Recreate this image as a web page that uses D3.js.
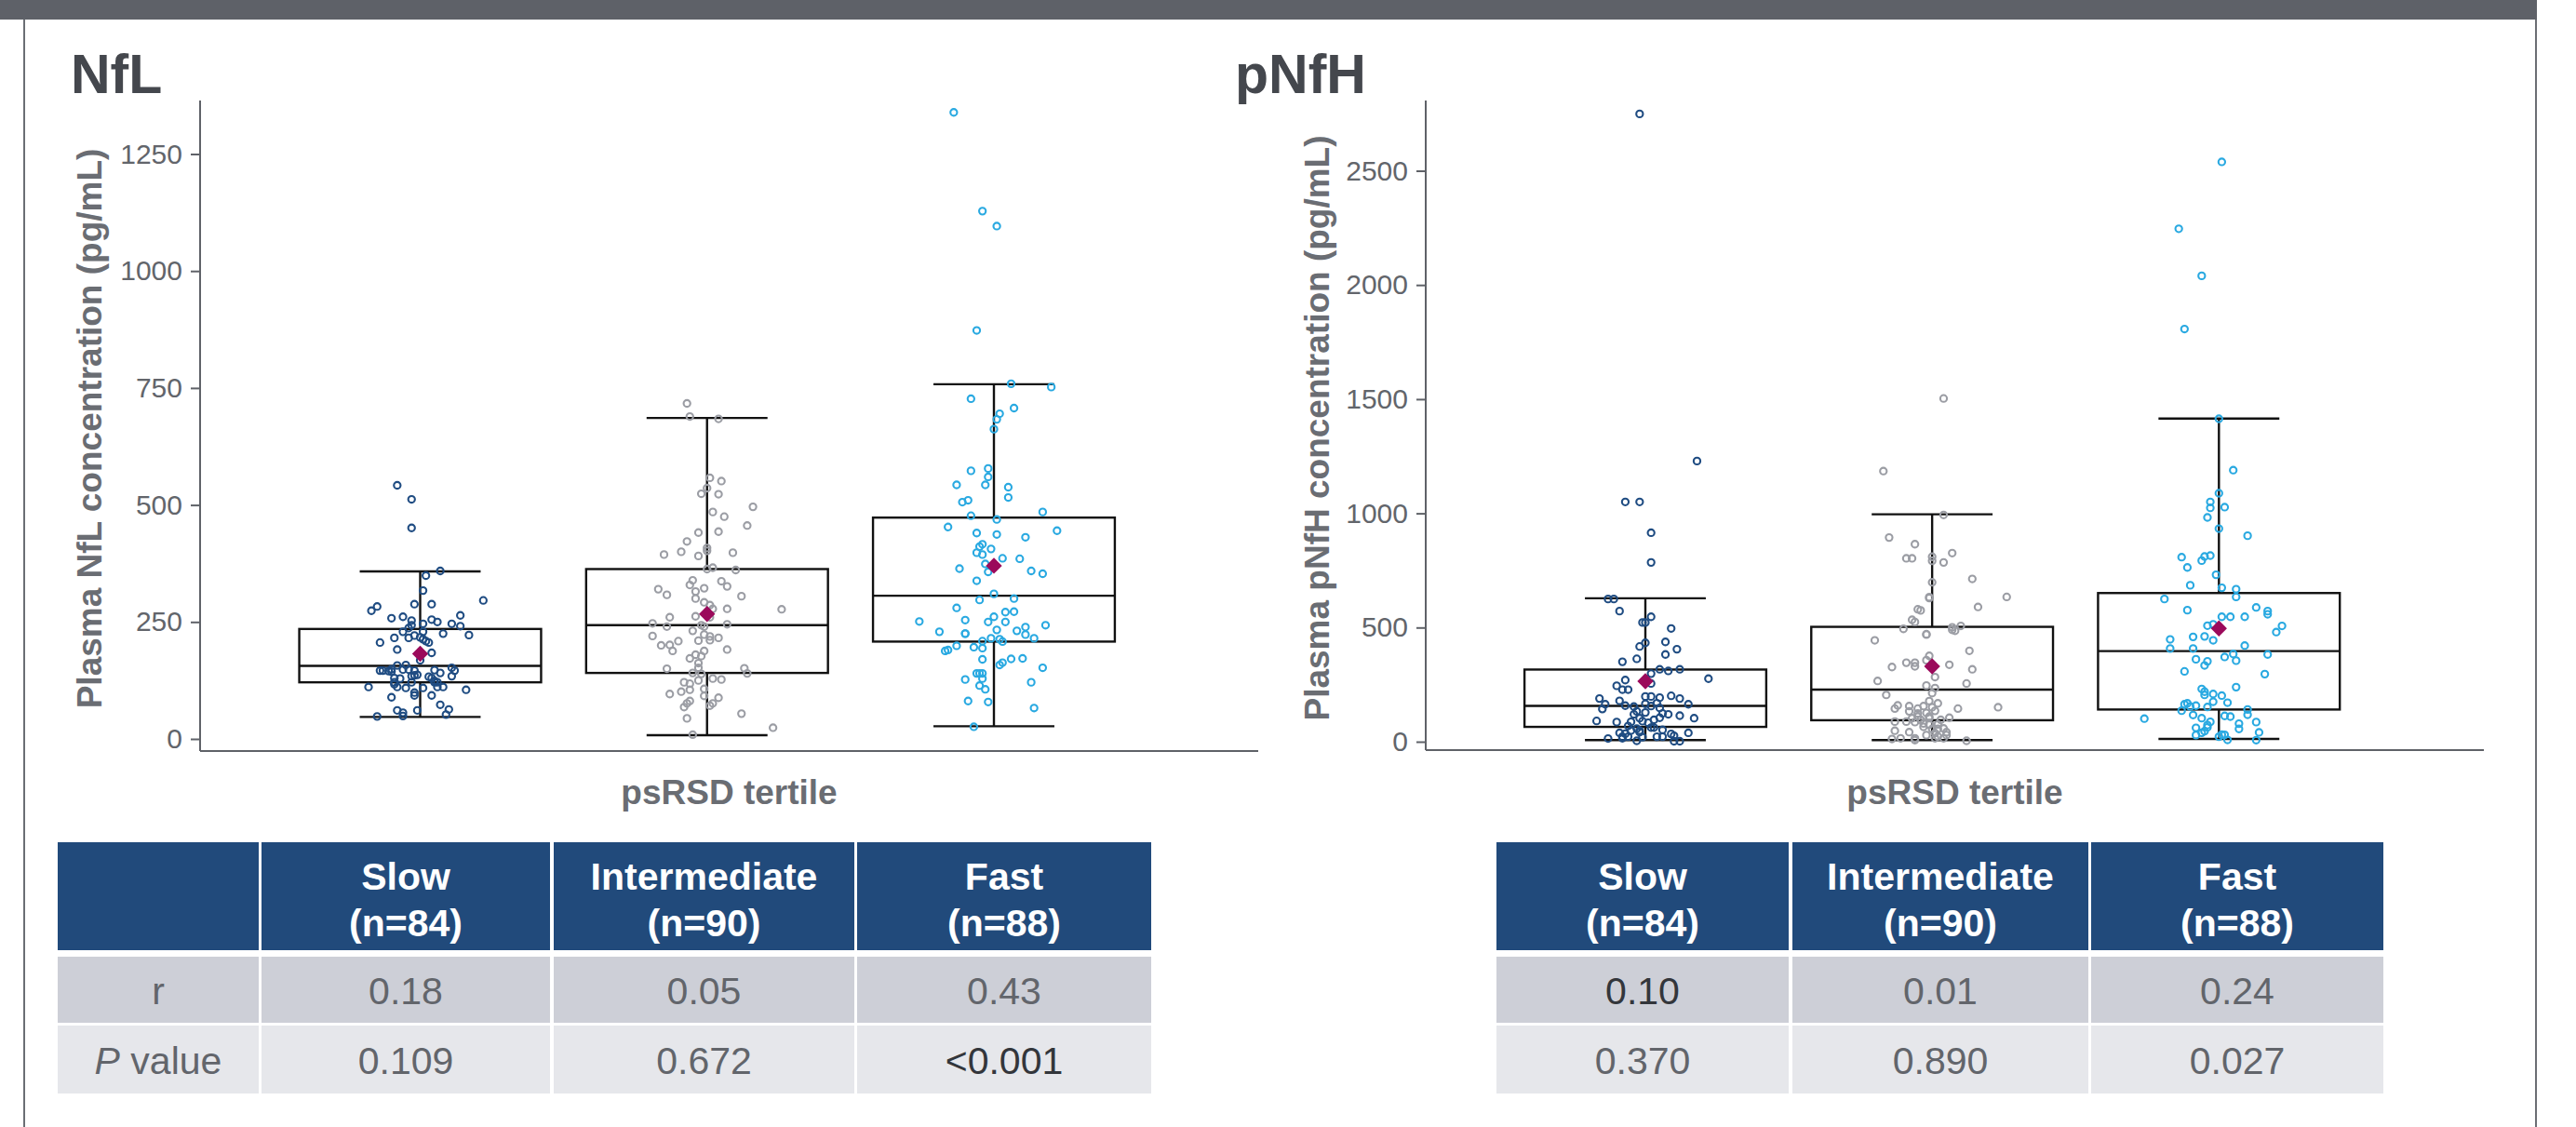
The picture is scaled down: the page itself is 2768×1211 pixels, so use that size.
<!DOCTYPE html>
<html>
<head>
<meta charset="utf-8">
<script src="https://cdn.jsdelivr.net/npm/d3@7"></script>
<style>
body { margin: 0; background: #fff; }
svg { display: block; font-family: "Liberation Sans", Arial, sans-serif; }
</style>
</head>
<body>
<div id="chart"></div>
<script>
var categories = ["Slow", "Intermediate", "Fast"];
var groupN = [84, 90, 88];

var nflTicks = [0, 250, 500, 750, 1000, 1250];
var nfhTicks = [0, 500, 1000, 1500, 2000, 2500];

// box stats per tertile: [lower whisker, q1, median, q3, upper whisker, mean]
var nflStats = [[47, 121, 156, 235, 358, 182], [8, 141, 243, 363, 686, 267], [27, 208, 306, 473, 758, 370]];
var nfhStats = [[7, 65, 157, 316, 628, 265], [7, 94, 228, 503, 996, 330], [12, 141, 397, 651, 1415, 496]];

// points: [jitter (in category steps), value pg/mL]
var nflSlow = [[-0.08,542],[-0.03,512],[-0.03,451],[0.07,359],[0.02,349],[0.01,317],[0.22,296],[-0.02,288],[0.04,288],[-0.15,283],
  [-0.17,274],[-0.10,258],[-0.06,261],[-0.03,253],[-0.03,243],[0.01,246],[0.04,255],[0.06,250],[0.11,246],[0.14,264],
  [0.14,241],[-0.06,229],[-0.02,221],[0.01,229],[0.08,225],[0.17,222],[-0.09,216],[-0.04,216],[0.00,217],[0.02,209],
  [0.03,206],[-0.14,206],[-0.08,191],[0.04,184],[0.00,168],[-0.08,157],[-0.05,158],[-0.13,146],[-0.11,145],[-0.10,149],
  [-0.04,148],[-0.02,146],[0.05,147],[0.07,141],[0.11,152],[0.12,146],[0.11,134],[-0.09,130],[-0.07,129],[-0.03,134],
  [-0.01,137],[0.03,133],[0.04,130],[-0.09,117],[0.05,121],[-0.18,111],[-0.08,111],[-0.05,109],[0.01,109],[0.06,111],
  [0.08,111],[0.16,105],[-0.02,99],[-0.02,93],[-0.10,89],[0.04,93],[0.07,73],[-0.08,61],[-0.06,56],[-0.06,49],
  [-0.01,61],[0.10,63],[0.09,52],[-0.15,48],[-0.02,136],[-0.10,144],[-0.06,148],[0.05,124],[-0.03,121],[-0.04,237],
  [0.01,213],[0.06,121],[-0.14,146],[-0.09,121]];
var nflInt = [[-0.07,717],[-0.06,689],[0.04,684],[0.01,558],[0.05,551],[0.00,536],[-0.02,524],[0.04,523],[0.16,496],[0.02,485],
  [0.06,475],[0.14,456],[-0.03,441],[0.04,443],[-0.07,422],[0.00,408],[0.00,402],[-0.09,400],[-0.03,391],[-0.15,394],
  [0.09,398],[0.00,363],[0.02,366],[0.10,361],[-0.05,339],[-0.06,329],[0.05,337],[0.07,326],[-0.01,322],[-0.04,315],
  [-0.17,320],[-0.14,308],[0.12,305],[-0.01,292],[0.01,286],[0.02,278],[0.07,278],[0.26,277],[-0.13,260],[-0.04,262],
  [-0.19,247],[-0.14,240],[-0.02,243],[-0.01,240],[0.07,245],[-0.05,231],[-0.19,220],[-0.01,223],[0.01,219],[0.04,216],
  [0.01,211],[-0.10,209],[-0.16,200],[-0.13,201],[-0.12,188],[0.07,191],[-0.01,188],[-0.04,180],[-0.02,177],[-0.06,172],
  [-0.03,162],[-0.03,152],[-0.14,150],[0.13,151],[0.14,140],[-0.05,141],[-0.02,139],[0.02,129],[0.05,127],[-0.03,125],
  [-0.08,121],[-0.06,118],[-0.06,105],[-0.09,101],[-0.01,107],[-0.13,96],[-0.01,92],[0.04,88],[-0.06,81],[-0.07,76],
  [-0.08,68],[0.02,76],[0.01,71],[0.12,54],[-0.07,44],[0.23,24],[-0.05,9],[-0.04,300],[0.01,260],[-0.03,210]];
var nflFast = [[0.06,759],[0.20,752],[-0.08,727],[0.07,707],[0.02,695],[0.01,683],[0.00,662],[-0.02,578],[-0.08,573],[-0.02,560],
  [-0.13,543],[-0.03,543],[0.05,538],[0.05,516],[-0.11,506],[-0.09,510],[0.17,485],[-0.08,477],[0.01,469],[-0.16,453],
  [0.22,445],[-0.06,440],[0.01,437],[0.11,431],[-0.04,416],[-0.05,411],[-0.01,406],[-0.06,398],[-0.04,394],[0.03,386],
  [0.09,385],[-0.03,374],[-0.12,364],[-0.02,357],[0.13,359],[0.17,353],[-0.06,338],[0.00,310],[-0.05,297],[0.07,300],
  [-0.13,280],[0.04,271],[0.07,272],[-0.26,251],[-0.10,254],[-0.02,250],[0.00,261],[0.04,250],[0.18,243],[-0.19,229],
  [-0.10,225],[-0.10,225],[0.01,233],[0.08,231],[0.11,239],[0.11,223],[0.14,215],[-0.01,215],[-0.04,209],[0.02,213],
  [0.03,208],[-0.17,188],[-0.13,199],[-0.07,196],[-0.04,194],[-0.04,170],[0.06,171],[0.10,172],[0.03,163],[0.02,158],
  [0.17,152],[-0.06,140],[-0.04,140],[-0.04,129],[-0.10,127],[-0.05,114],[-0.03,106],[0.13,121],[-0.09,81],[-0.02,79],
  [0.14,66],[-0.07,26],[-0.16,190],[-0.05,140],[-0.14,1339],[-0.04,1128],[0.01,1096],[-0.06,873]];

var nfhSlow = [[0.02,785],[-0.13,625],[-0.11,625],[-0.09,572],[0.02,547],[-0.01,522],[0.00,522],[0.09,496],[0.00,433],[0.07,437],
  [-0.02,417],[0.11,405],[0.07,382],[-0.03,363],[-0.08,350],[0.05,317],[0.08,310],[0.12,317],[0.02,298],[0.22,276],
  [-0.07,270],[0.02,255],[-0.10,245],[-0.08,228],[-0.06,228],[-0.16,189],[0.00,198],[0.02,198],[0.05,193],[0.09,201],
  [0.12,189],[-0.09,179],[-0.14,164],[-0.15,143],[-0.07,158],[-0.04,154],[-0.03,133],[0.00,166],[0.02,156],[0.04,169],
  [0.05,148],[0.15,164],[-0.04,120],[-0.02,103],[0.00,128],[0.06,124],[0.08,120],[0.12,114],[0.17,103],[-0.17,91],
  [-0.10,86],[-0.05,87],[-0.01,90],[0.05,105],[0.03,62],[-0.03,57],[-0.05,49],[-0.02,49],[0.02,62],[0.06,52],
  [0.15,39],[-0.09,39],[-0.08,22],[-0.06,22],[-0.13,14],[-0.03,4],[-0.01,20],[0.04,22],[0.06,22],[0.09,34],
  [0.10,26],[0.10,2],[0.12,2],[-0.08,15],[-0.06,69],[0.01,83],[0.03,96],[-0.07,35],[-0.02,42],[-0.02,2749],
  [0.18,1229],[-0.07,1050],[-0.02,1050],[0.02,915]];
var nfhInt = [[-0.17,1185],[0.04,993],[-0.15,894],[-0.06,865],[-0.09,803],[-0.07,803],[0.00,810],[0.00,792],[0.07,826],[0.04,785],
  [0.14,713],[0.00,698],[0.26,634],[-0.01,629],[0.16,590],[-0.05,580],[-0.04,575],[-0.07,534],[-0.06,524],[-0.10,494],
  [0.07,501],[0.08,486],[0.10,507],[-0.02,471],[-0.20,444],[0.13,398],[-0.01,376],[-0.02,357],[-0.09,346],[-0.06,346],
  [-0.14,327],[-0.06,330],[0.06,337],[0.14,317],[0.01,283],[-0.19,266],[-0.02,246],[0.12,255],[0.01,235],[0.00,213],
  [-0.16,205],[-0.01,178],[0.02,168],[-0.03,156],[-0.12,159],[-0.13,145],[-0.08,156],[-0.08,133],[-0.05,145],[-0.05,124],
  [-0.02,126],[0.01,135],[0.09,145],[0.23,151],[0.06,105],[-0.13,88],[-0.09,88],[-0.06,86],[-0.04,96],[-0.01,103],
  [-0.03,65],[-0.01,75],[0.02,76],[-0.13,48],[0.02,56],[0.04,58],[0.05,42],[0.01,38],[-0.14,12],[-0.06,15],
  [-0.06,7],[0.04,15],[0.02,23],[0.12,4],[-0.01,633],[0.07,490],[-0.02,469],[-0.05,110],[0.00,151],[-0.03,80],
  [0.03,96],[-0.07,103],[0.00,56],[-0.11,15],[0.01,15],[-0.02,29],[-0.08,42],[0.05,29],[-0.01,110],[0.04,1503]];
var nfhFast = [[0.00,1414],[0.05,1189],[0.00,1088],[-0.03,1050],[-0.03,1024],[0.02,1027],[-0.04,982],[0.00,933],[0.10,902],[-0.13,808],
  [-0.05,811],[-0.03,815],[-0.06,793],[-0.11,763],[-0.01,731],[-0.10,685],[0.01,674],[0.06,668],[0.06,634],[-0.19,625],
  [-0.11,576],[0.13,588],[0.17,572],[0.17,558],[0.01,547],[0.04,547],[0.09,547],[-0.04,508],[-0.02,514],[0.22,507],
  [0.20,480],[-0.17,448],[-0.09,459],[-0.05,461],[-0.02,444],[-0.17,408],[-0.09,408],[0.09,421],[-0.08,361],[0.02,371],
  [0.05,384],[0.06,355],[0.17,382],[-0.04,352],[-0.05,334],[-0.12,308],[0.16,296],[-0.06,231],[-0.05,219],[-0.05,205],
  [-0.02,209],[0.01,202],[0.06,239],[-0.02,175],[0.03,171],[-0.11,168],[-0.10,154],[-0.08,158],[-0.04,152],[-0.13,136],
  [0.10,141],[0.10,118],[-0.26,101],[-0.09,117],[-0.06,103],[0.02,113],[0.04,110],[-0.03,87],[-0.04,73],[0.07,79],
  [0.07,56],[0.13,86],[-0.08,61],[-0.05,46],[0.14,41],[-0.08,29],[0.00,22],[0.02,30],[0.03,8],[0.13,7],
  [-0.06,39],[-0.04,63],[-0.12,164],[0.01,31],[0.01,2539],[-0.14,2246],[-0.06,2040],[-0.12,1807]];

// correlation table
var nflR = ["0.18", "0.05", "0.43"];
var nflP = ["0.109", "0.672", "<0.001"];
var nfhR = ["0.10", "0.01", "0.24"];
var nfhP = ["0.370", "0.890", "0.027"];

var width = 2768, height = 1211;
var groupColors = ["#1f4c82", "#9b9da4", "#29a9e1"];
var meanColor = "#9b0a5b";
var axisColor = "#5f6268";
var textGray = "#62656b";

var svg = d3.select("#chart")
    .append("svg")
    .attr("width", width)
    .attr("height", height);

// frame
svg.append("rect").attr("x", 0).attr("y", 0).attr("width", 2726).attr("height", 21).attr("fill", "#5e6168");
svg.append("line").attr("x1", 26).attr("x2", 26).attr("y1", 21).attr("y2", height)
    .attr("stroke", "#6b6e74").attr("stroke-width", 2);
svg.append("line").attr("x1", 2725).attr("x2", 2725).attr("y1", 21).attr("y2", height)
    .attr("stroke", "#6b6e74").attr("stroke-width", 2);

function drawPanel(p) {
    var g = svg.append("g");
    var y = d3.scaleLinear().domain([0, p.ticks[p.ticks.length - 1]]).range([p.zeroY, p.topTickY]);
    var x = d3.scalePoint().domain(categories).range(p.xRange);
    var step = x.step();
    var boxW = step * 0.843;

    // title
    g.append("text").attr("x", p.titleX).attr("y", 100)
        .attr("font-size", 59).attr("font-weight", "bold").attr("fill", "#44474d")
        .text(p.title);

    // y axis
    var ax = g.append("g").attr("transform", "translate(" + p.left + ",0)")
        .call(d3.axisLeft(y).tickValues(p.ticks).tickFormat(d3.format("d")).tickSize(10).tickPadding(9));
    ax.select(".domain").remove();
    ax.selectAll(".tick line").attr("stroke", axisColor).attr("stroke-width", 2);
    ax.selectAll(".tick text").attr("font-size", 30).attr("fill", textGray)
        .attr("font-family", "Liberation Sans, Arial, sans-serif");

    g.append("line").attr("x1", p.left).attr("x2", p.left).attr("y1", p.top).attr("y2", p.bottom)
        .attr("stroke", axisColor).attr("stroke-width", 2);
    g.append("line").attr("x1", p.left).attr("x2", p.right).attr("y1", p.bottom).attr("y2", p.bottom)
        .attr("stroke", axisColor).attr("stroke-width", 2);

    // axis titles
    g.append("text")
        .attr("transform", "translate(" + p.yTitleX + "," + ((p.top + p.bottom) / 2 + 3) + ") rotate(-90)")
        .attr("text-anchor", "middle").attr("font-size", 37).attr("font-weight", "bold").attr("fill", "#6a6d73")
        .text(p.yTitle);
    g.append("text").attr("x", (p.left + p.right) / 2).attr("y", 864)
        .attr("text-anchor", "middle").attr("font-size", 37).attr("font-weight", "bold").attr("fill", "#6a6d73")
        .text("psRSD tertile");

    // boxes
    var boxes = g.selectAll(".box").data(p.stats).enter().append("g")
        .attr("transform", function(d, i) { return "translate(" + x(categories[i]) + ",0)"; })
        .attr("stroke", "#111").attr("stroke-width", 2.4).attr("fill", "none");
    boxes.append("line").attr("x1", 0).attr("x2", 0)
        .attr("y1", function(d) { return y(d[3]); }).attr("y2", function(d) { return y(d[4]); });
    boxes.append("line").attr("x1", 0).attr("x2", 0)
        .attr("y1", function(d) { return y(d[1]); }).attr("y2", function(d) { return y(d[0]); });
    boxes.append("line").attr("x1", -boxW / 4).attr("x2", boxW / 4)
        .attr("y1", function(d) { return y(d[4]); }).attr("y2", function(d) { return y(d[4]); });
    boxes.append("line").attr("x1", -boxW / 4).attr("x2", boxW / 4)
        .attr("y1", function(d) { return y(d[0]); }).attr("y2", function(d) { return y(d[0]); });
    boxes.append("rect").attr("x", -boxW / 2).attr("width", boxW)
        .attr("y", function(d) { return y(d[3]); })
        .attr("height", function(d) { return y(d[1]) - y(d[3]); });
    boxes.append("line").attr("x1", -boxW / 2).attr("x2", boxW / 2)
        .attr("y1", function(d) { return y(d[2]); }).attr("y2", function(d) { return y(d[2]); });

    // jittered points
    p.groups.forEach(function(pts, i) {
        g.append("g").selectAll("circle").data(pts).enter().append("circle")
            .attr("cx", function(d) { return x(categories[i]) + d[0] * step; })
            .attr("cy", function(d) { return y(d[1]); })
            .attr("r", 3.6)
            .attr("fill", "none")
            .attr("stroke", groupColors[i])
            .attr("stroke-width", 2.1);
    });

    // means
    g.selectAll(".mean").data(p.stats).enter().append("path")
        .attr("d", d3.symbol().type(d3.symbolSquare).size(150))
        .attr("transform", function(d, i) { return "translate(" + x(categories[i]) + "," + y(d[5]) + ") rotate(45)"; })
        .attr("fill", meanColor);
}

drawPanel({
    title: "NfL", titleX: 76, yTitle: "Plasma NfL concentration (pg/mL)", yTitleX: 109,
    ticks: nflTicks, stats: nflStats, groups: [nflSlow, nflInt, nflFast],
    left: 215, right: 1352, top: 108, bottom: 807, zeroY: 794, topTickY: 165.5,
    xRange: [451.5, 1068]
});
drawPanel({
    title: "pNfH", titleX: 1327, yTitle: "Plasma pNfH concentration (pg/mL)", yTitleX: 1428,
    ticks: nfhTicks, stats: nfhStats, groups: [nfhSlow, nfhInt, nfhFast],
    left: 1532, right: 2669, top: 108, bottom: 806, zeroY: 797, topTickY: 183.5,
    xRange: [1768, 2384.3]
});

// tables
var headerRow = [905, 1021], rRow = [1028, 1099], pRow = [1102, 1175];

function drawTable(cols, hasLabel, rVals, pVals, darkR, darkP) {
    var g = svg.append("g");
    var all = cols.map(function(c) { return { x0: c[0], x1: c[1] }; });
    g.selectAll(".h").data(all).enter().append("rect")
        .attr("x", function(d) { return d.x0; }).attr("width", function(d) { return d.x1 - d.x0; })
        .attr("y", headerRow[0]).attr("height", headerRow[1] - headerRow[0]).attr("fill", "#214a7b");
    g.selectAll(".r").data(all).enter().append("rect")
        .attr("x", function(d) { return d.x0; }).attr("width", function(d) { return d.x1 - d.x0; })
        .attr("y", rRow[0]).attr("height", rRow[1] - rRow[0]).attr("fill", "#cdcfd7");
    g.selectAll(".p").data(all).enter().append("rect")
        .attr("x", function(d) { return d.x0; }).attr("width", function(d) { return d.x1 - d.x0; })
        .attr("y", pRow[0]).attr("height", pRow[1] - pRow[0]).attr("fill", "#e6e7eb");

    var valueCols = hasLabel ? cols.slice(1) : cols;
    if (hasLabel) {
        var cx = (cols[0][0] + cols[0][1]) / 2;
        g.append("text").attr("x", cx).attr("y", 1079).attr("text-anchor", "middle")
            .attr("font-size", 41).attr("fill", textGray).text("r");
        var pt = g.append("text").attr("x", cx).attr("y", 1154).attr("text-anchor", "middle")
            .attr("font-size", 41).attr("fill", textGray);
        pt.append("tspan").attr("font-style", "italic").text("P");
        pt.append("tspan").text(" value");
    }
    valueCols.forEach(function(c, i) {
        var cx = (c[0] + c[1]) / 2;
        g.append("text").attr("x", cx).attr("y", 956).attr("text-anchor", "middle")
            .attr("font-size", 41).attr("font-weight", "bold").attr("fill", "#fff").text(categories[i]);
        g.append("text").attr("x", cx).attr("y", 1006).attr("text-anchor", "middle")
            .attr("font-size", 41).attr("font-weight", "bold").attr("fill", "#fff").text("(n=" + groupN[i] + ")");
        g.append("text").attr("x", cx).attr("y", 1079).attr("text-anchor", "middle")
            .attr("font-size", 41).attr("fill", i === darkR ? "#33363b" : textGray).text(rVals[i]);
        g.append("text").attr("x", cx).attr("y", 1154).attr("text-anchor", "middle")
            .attr("font-size", 41).attr("fill", i === darkP ? "#33363b" : textGray).text(pVals[i]);
    });
}

drawTable([[62, 278], [281, 591], [595, 918], [921, 1237]], true, nflR, nflP, -1, 2);
drawTable([[1608, 1922], [1926, 2244], [2247, 2561]], false, nfhR, nfhP, 0, -1);
</script>
</body>
</html>
